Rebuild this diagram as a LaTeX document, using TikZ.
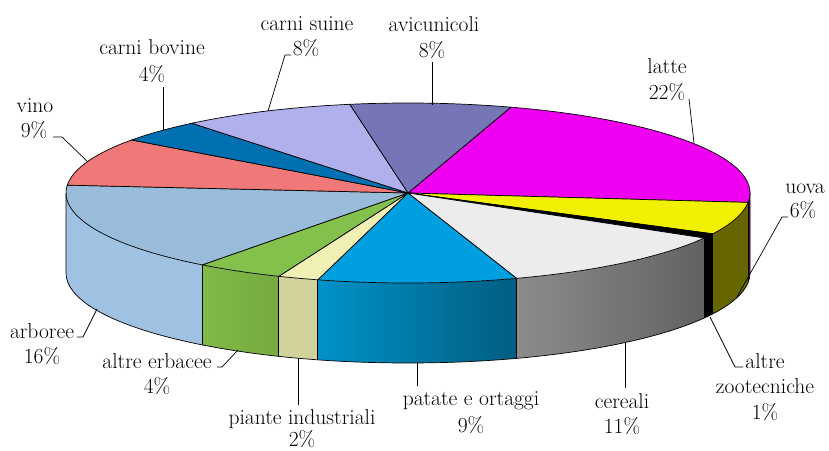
\documentclass[tikz,border=0pt]{standalone}
\usetikzlibrary{calc}
\definecolor{latteC}{RGB}{240,0,240}
\definecolor{latteS}{RGB}{120,0,120}
\definecolor{uovaC}{RGB}{240,240,0}
\definecolor{uovaS}{RGB}{102,102,0}
\definecolor{cerC}{RGB}{236,236,236}
\definecolor{cerL}{RGB}{140,140,140}
\definecolor{cerR}{RGB}{98,98,98}
\definecolor{patC}{RGB}{0,160,224}
\definecolor{patL}{RGB}{0,146,200}
\definecolor{patR}{RGB}{0,94,128}
\definecolor{piaC}{RGB}{240,240,180}
\definecolor{piaS}{RGB}{210,210,156}
\definecolor{aeC}{RGB}{132,192,76}
\definecolor{aeL}{RGB}{128,186,72}
\definecolor{aeR}{RGB}{118,170,64}
\definecolor{arC}{RGB}{152,188,218}
\definecolor{arS}{RGB}{160,194,226}
\definecolor{vinoC}{RGB}{240,120,120}
\definecolor{bovC}{RGB}{0,112,176}
\definecolor{suiC}{RGB}{176,176,236}
\definecolor{aviC}{RGB}{118,118,182}
\newcommand\topslice[3]{\filldraw[fill=#3, edgeline] (0,0) -- (#1:342 and 90) arc[start angle=#1, end angle=#2, x radius=342pt, y radius=90pt] -- cycle;}
\newcommand\sideface[3]{\path[#3] (#1:342 and 90) arc[start angle=#1, end angle=#2, x radius=342pt, y radius=90pt] -- ++(0,-80) arc[start angle=#2, end angle=#1, x radius=342pt, y radius=90pt] -- cycle;}
\tikzset{
  lbl/.style={font=\rmfamily\fontsize{21.5}{25}\selectfont, inner sep=0pt, anchor=base},
  edgeline/.style={draw=black, line width=0.7pt, line join=round},
  leader/.style={draw=black, line width=0.7pt},
}
\begin{document}
\begin{tikzpicture}[x=1pt,y=1pt]
\useasboundingbox (0,0) rectangle (829,450);
\fill[white] (0,0) rectangle (829,450);
\begin{scope}[shift={(408,257)}]
  % side faces
  \sideface{-6}{0}{fill=latteS}
  \sideface{-27}{-6}{fill=uovaS}
  \sideface{-30}{-27}{fill=black}
  \sideface{-71.5}{-30}{shade, left color=cerL, right color=cerR}
  \sideface{-105.3}{-71.5}{shade, left color=patL, right color=patR}
  \sideface{-112.2}{-105.3}{fill=piaS}
  \sideface{-127}{-112.2}{shade, left color=aeL, right color=aeR}
  \sideface{-180}{-127}{fill=arS}
  \foreach \a in {-6,-27,-30,-71.5,-105.3,-112.2,-127}
    \draw[edgeline] (\a:342 and 90) -- ++(0,-80);
  \draw[edgeline] (-342,0) -- (-342,-80) arc[start angle=180, end angle=360, x radius=342pt, y radius=90pt] -- (342,0);
  % top faces
  \topslice{72.5}{-6}{latteC}
  \topslice{-6}{-27}{uovaC}
  \topslice{-27}{-30}{black}
  \topslice{-30}{-71.5}{cerC}
  \topslice{-71.5}{-105.3}{patC}
  \topslice{-105.3}{-112.2}{piaC}
  \topslice{-112.2}{-127}{aeC}
  \topslice{-127}{-185}{arC}
  \topslice{-185}{-216.1}{vinoC}
  \topslice{-216.1}{-230.8}{bovC}
  \topslice{-230.8}{-260.2}{suiC}
  \topslice{-260.2}{-287.5}{aviC}
\end{scope}
% leader end points on the pie
\coordinate (p-suine) at (268,339);
\coordinate (p-bov) at (163,320);
\coordinate (p-vino) at (88,288);
\coordinate (p-avic) at (432,345);
\coordinate (p-latte) at (694,307);
\coordinate (p-uova) at (737,153);
\coordinate (p-az) at (710,133);
\coordinate (p-cer) at (625,107);
\coordinate (p-pat) at (417,87);
\coordinate (p-pia) at (298,92);
\coordinate (p-ae) at (238,100);
\coordinate (p-ar) at (97,141);
% labels
\node[lbl] (cs1) at (307,419) {carni suine};
\node[lbl] (cs2) at (306,394) {8\%};
\node[lbl] (cb1) at (152,395) {carni bovine};
\node[lbl] (cb2) at (152,368) {4\%};
\node[lbl] (vi1) at (35,337) {vino};
\node[lbl] (vi2) at (34,312) {9\%};
\node[lbl] (av1) at (434,418) {avicunicoli};
\node[lbl] (av2) at (432,392) {8\%};
\node[lbl] (la1) at (667,376) {latte};
\node[lbl] (la2) at (667,350) {22\%};
\node[lbl] (uo1) at (805,256) {uova};
\node[lbl] (uo2) at (803,232) {6\%};
\node[lbl] (az1) at (765,82) {altre};
\node[lbl] (az2) at (765,57) {zootecniche};
\node[lbl] (az3) at (765,31) {1\%};
\node[lbl] (ce1) at (622,42) {cereali};
\node[lbl] (ce2) at (622,17) {11\%};
\node[lbl] (pa1) at (471,45) {patate e ortaggi};
\node[lbl] (pa2) at (471,18) {9\%};
\node[lbl] (pi1) at (302,26) {piante industriali};
\node[lbl] (pi2) at (302,4) {2\%};
\node[lbl] (ae1) at (157,82) {altre erbacee};
\node[lbl] (ae2) at (157,57) {4\%};
\node[lbl] (ar1) at (42,112) {arboree};
\node[lbl] (ar2) at (42,87) {16\%};
% leaders
\draw[leader] ([xshift=-15pt,yshift=1pt]cs2.base) -- ++(-6,0) -- (p-suine);
\draw[leader] ([xshift=11pt,yshift=-5pt]cb2.base) -- (p-bov);
\draw[leader] ([xshift=19pt,yshift=1pt]vi2.base) -- ++(9,0) -- (p-vino);
\draw[leader] ([yshift=-4pt]av2.base) -- (p-avic);
\draw[leader] ([xshift=22pt,yshift=1pt]la2.base) -- (p-latte);
\draw[leader] ([xshift=-15pt,yshift=1pt]uo2.base) -- ++(-6,0) -- (p-uova);
\draw[leader] ([xshift=-22pt,yshift=1pt]az1.base) -- ++(-8,0) -- (p-az);
\draw[leader] ([xshift=3pt,yshift=20pt]ce1.base) -- (p-cer);
\draw[leader] ([xshift=-54pt,yshift=19pt]pa1.base) -- (p-pat);
\draw[leader] ([xshift=-4pt,yshift=19pt]pi1.base) -- (p-pia);
\draw[leader] ([xshift=60pt,yshift=1pt]ae1.base) -- ++(5,0) -- (p-ae);
\draw[leader] ([xshift=35pt,yshift=1pt]ar1.base) -- ++(6,0) -- (p-ar);
\end{tikzpicture}
\end{document}
